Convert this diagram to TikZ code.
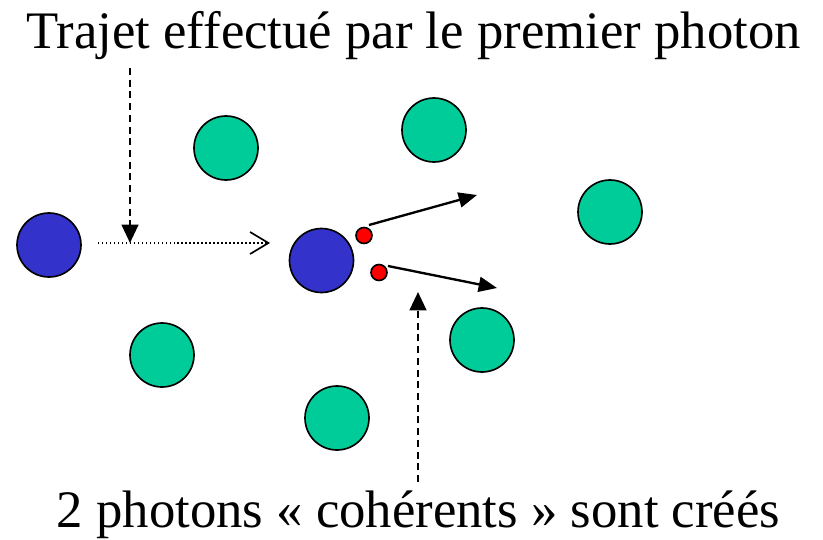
\documentclass[tikz,border=0pt]{standalone}
\usepackage{fontspec}
\setmainfont{Liberation Serif}
\usetikzlibrary{arrows.meta}
\definecolor{vert}{RGB}{0,204,153}
\definecolor{bleu}{RGB}{51,51,204}
\definecolor{rouge}{RGB}{255,0,0}
\tikzset{
  atome/.style={circle, draw=black, line width=1.4pt, fill=vert, minimum size=1.92cm, inner sep=0pt},
  photon/.style={atome, fill=bleu},
  emis/.style={circle, draw=black, line width=1.4pt, fill=rouge, minimum size=0.48cm, inner sep=0pt},
  legende/.style={font=\fontsize{45}{54}\selectfont, anchor=base},
  fleche/.style={line width=2pt, dash pattern=on 6pt off 4pt, -{Triangle[length=5.5mm,width=5mm]}}
}
\begin{document}
\begin{tikzpicture}[x=0.03cm, y=-0.03cm]
        \useasboundingbox (0,0) rectangle (823,539);

        % Textes
        \node[legende] (titre) at (413.5,49) {Trajet effectué par le premier photon};
        \node[legende] (bas) at (418.5,527) {2 photons « cohérents » sont créés};

        % Atomes (vert)
        \node[atome] (a1) at (226,148) {};
        \node[atome] (a2) at (434,130) {};
        \node[atome] (a3) at (610,212) {};
        \node[atome] (a4) at (162,355) {};
        \node[atome] (a5) at (482,340) {};
        \node[atome] (a6) at (337,418) {};

        % Photon avant et apres
        \node[photon] (depart) at (49,245) {};
        \node[photon] (arrivee) at (321.5,260.5) {};

        % Photons emis (rouge)
        \node[emis] (p1) at (364,235.5) {};
        \node[emis] (p2) at (379,272.5) {};

        % Trajet (pointilles)
        \coordinate (trajet) at (130,243);
        \draw[line width=1.4pt, dotted, -{Straight Barb[length=5.5mm,width=6.6mm,line width=1.4pt]}]
          (depart.east |- trajet) ++(16,0) -- (270,243) coordinate (fin);

        % Fleches vers les textes
        \coordinate (haut) at (130,68);
        \draw[fleche] (haut) -- (trajet);
        \coordinate (pied) at (418,482);
        \coordinate (pointe) at (418,292);
        \draw[fleche] (pied) -- (pointe);

        % Directions des photons
        \coordinate (d1) at (369,225);
        \coordinate (f1) at (477,195);
        \coordinate (d2) at (388,266);
        \coordinate (f2) at (497,288);
        \draw[line width=2pt, -{Triangle[length=5.5mm,width=4.5mm]}] (d1) -- (f1);
        \draw[line width=2pt, -{Triangle[length=5.5mm,width=4.5mm]}] (d2) -- (f2);

    \end{tikzpicture}
\end{document}
